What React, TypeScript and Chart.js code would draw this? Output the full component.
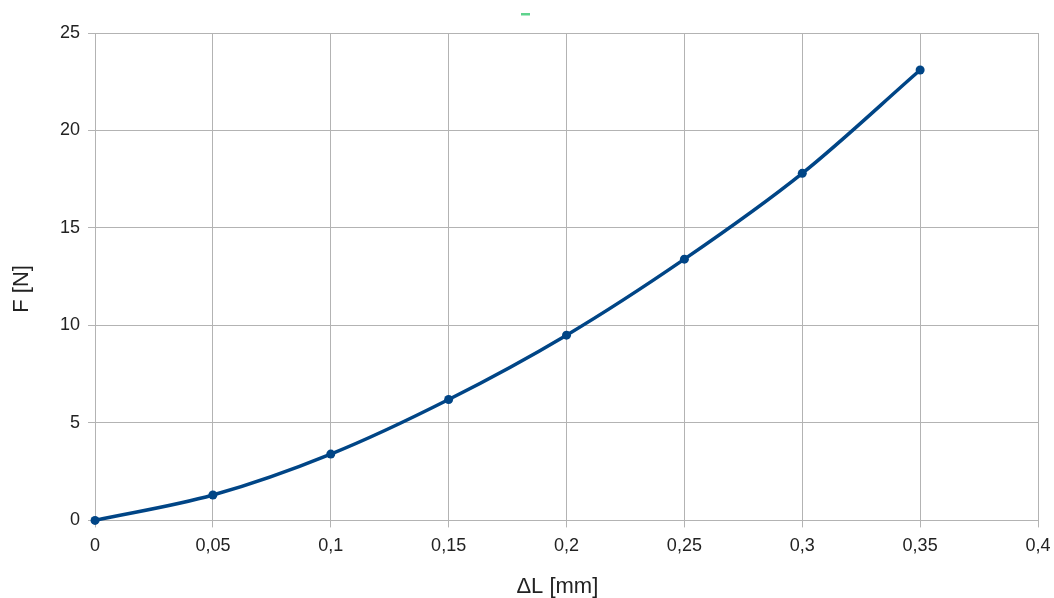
import React, { useEffect, useRef } from "react";
import { Chart, registerables } from "chart.js";

Chart.register(...registerables);

const elongation: number[] = [0, 0.05, 0.1, 0.15, 0.2, 0.25, 0.3, 0.35];
const force: number[] = [0, 1.3, 3.4, 6.2, 9.5, 13.4, 17.8, 23.1];
const xTitle = "ΔL [mm]   ";
const yTitle = "F [N]    ";
const legendColor = "#5ed38d";

const fmt = (v: number) => {
  const s = parseFloat(v.toFixed(4)).toString();
  return s.replace(".", ",");
};

const legendDash = {
  id: "legendDash",
  afterDraw(chart: any) {
    const ctx = chart.ctx;
    const cx = (chart.chartArea.left + chart.chartArea.right) / 2;
    ctx.save();
    ctx.fillStyle = legendColor;
    ctx.fillRect(Math.round(cx - 46), 13, 9, 2.5);
    ctx.restore();
  },
};

export default function App() {
  const ref = useRef<HTMLCanvasElement>(null);
  useEffect(() => {
    if (!ref.current) return;
    const chart = new Chart(ref.current, {
      type: "line",
      data: {
        datasets: [
          {
            label: "",
            data: elongation.map((x, i) => ({ x, y: force[i] })),
            borderColor: "#004586",
            backgroundColor: "#004586",
            borderWidth: 3.5,
            pointRadius: 4.5,
            pointBorderWidth: 0,
            cubicInterpolationMode: "monotone",
            clip: false,
          },
        ],
      },
      plugins: [legendDash],
      options: {
        animation: false,
        responsive: false,
        maintainAspectRatio: false,
        layout: { padding: { top: 33, right: 16, left: 11, bottom: 0 } },
        plugins: { legend: { display: false }, tooltip: { enabled: false } },
        scales: {
          x: {
            type: "linear",
            min: 0,
            max: 0.4,
            afterFit: (s: any) => {
              s.paddingRight = 0;
            },
            border: { color: "#b3b3b3" },
            grid: { color: "#b3b3b3", tickLength: 7 },
            ticks: {
              stepSize: 0.05,
              color: "#222",
              font: { family: "Liberation Sans", size: 18 },
              padding: 8,
              callback: (v: any) => fmt(Number(v)),
            },
            title: {
              display: true,
              text: xTitle,
              color: "#222",
              font: { family: "Liberation Sans", size: 22, lineHeight: 1 },
              padding: { top: 11, bottom: 0 },
            },
          },
          y: {
            type: "linear",
            min: 0,
            max: 25,
            border: { color: "#b3b3b3" },
            grid: { color: "#b3b3b3", tickLength: 7 },
            ticks: {
              stepSize: 5,
              color: "#222",
              font: { family: "Liberation Sans", size: 18 },
              padding: 8,
              callback: (v: any) => fmt(Number(v)),
            },
            title: {
              display: true,
              text: yTitle,
              color: "#222",
              font: { family: "Liberation Sans", size: 22, lineHeight: 1 },
              padding: { top: 0, bottom: 19 },
            },
          },
        },
      },
    });
    return () => chart.destroy();
  }, []);
  return (
    <div style={{ position: "absolute", left: 0, top: 0, width: 1054, height: 598, background: "#fff" }}>
      <canvas ref={ref} width={1054} height={598} style={{ width: 1054, height: 598 }} />
    </div>
  );
}
